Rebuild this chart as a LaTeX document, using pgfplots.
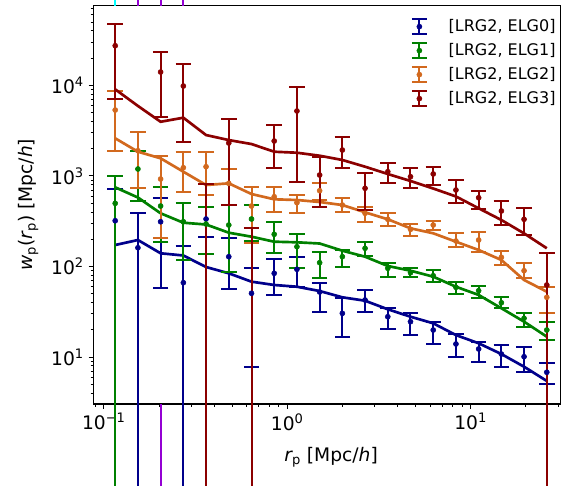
\documentclass[border=0pt]{standalone}
\usepackage{pgfplots}
\usepackage{pgfplotstable}
\pgfplotsset{compat=1.18}
\usepackage{fontspec}
\setmainfont{DejaVu Sans}
\definecolor{cnavy}{RGB}{0,0,139}
\definecolor{cgreen}{RGB}{0,128,0}
\definecolor{corange}{RGB}{210,105,30}
\definecolor{cdred}{RGB}{139,0,0}
\definecolor{cpurple}{RGB}{148,0,211}
\definecolor{ccyan}{RGB}{0,255,255}

% ELG0
\pgfplotstableread{
x y ep em
0.11533 320 391 319.7
0.15339 161 231.5 160.7
0.20396 312 263 254.5
0.27128 66.3 102.1 66.0
0.36083 334.4 122.6 124.4
0.4799 128.3 76.5 72.3
0.63846 50.6 44.9 42.77
0.84895 84.1 36.0 35.6
1.1292 93.1 33.2 34.2
1.5019 52.3 14.0 20.6
1.9975 30.4 14.2 13.6
2.6563 42.7 12.3 11.0
3.5335 27.9 6.7 7.5
4.6989 24.6 5.8 7.1
6.2521 19.9 4.7 5.95
8.3134 13.95 4.05 4.0
11.057 12.29 2.51 3.39
14.708 10.8 2.8 2.97
19.555 10.1 2.9 3.2
26.01 6.8 1.87 1.75
}\elgzero
% ELG1
\pgfplotstableread{
x y ep em
0.11533 498 499 497.7
0.15339 1192 691 660
0.20396 465 283 277.2
0.27128 312 194 193.1
0.36083 294.5 162.5 157.1
0.4799 287 190 199.4
0.63846 334.4 142.6 143.2
0.84895 226.7 85.3 86.8
1.1292 165.4 63 69.9
1.5019 110.2 35.5 36.1
1.9975 128.3 23.8 30.3
2.6563 158.8 26.2 28.2
3.5335 95.5 14.7 18.3
4.6989 85.4 11.6 9.4
6.2521 79.1 12.4 11.1
8.3134 58.9 9.1 9.2
11.057 54.1 6.8 9.5
14.708 39.8 6.6 5.2
19.555 26.8 4.1 5.1
26.01 19.9 4.7 4.5
}\elgone
% ELG2
\pgfplotstableread{
x y ep em
0.11533 5339 3379 3442
0.15339 1897 1178 1156
0.20396 924 734 719.2
0.27128 1232 618 573
0.36083 1263 587 647.5
0.4799 828 354 351
0.63846 465 289 283.3
0.84895 589 171 186.3
1.1292 506 109.5 113.5
1.5019 686.5 141.5 140.5
1.9975 477 89 80.5
2.6563 386.6 63.4 74.6
3.5335 332 54.6 50
4.6989 257.4 34.9 40.4
6.2521 287 33 34.1
8.3134 191.2 41.3 28.3
11.057 196.1 46.1 50.4
14.708 126.3 23.1 22.4
19.555 89.9 18.6 15.8
26.01 45.7 14.1 15.3
}\elgtwo
% ELG3
\pgfplotstableread{
x y ep em
0.11533 27360 20140 20299
0.20396 14025 9465 9523
0.27128 9824 7356 7475
0.4799 2307 1906 1830
0.84895 2428 1218 1215
1.1292 5205 4299 4342
1.5019 1023 606 569.4
1.9975 1931 777 718
2.6563 729.8 338.2 309.5
3.5335 1113 264 285
4.6989 980 233 250.2
6.2521 1050 213 256.5
8.3134 698.9 201.9 200.9
11.057 574.6 111.9 146.7
14.708 410 122 123
19.555 332 106.9 109.3
26.01 62.5 77.4 62.2
}\elgthree
% ELG3 points whose value is below zero (only the upper end is in view)
\pgfplotstableread{
x y ep em
0.36083 814 0 813.7
0.63846 264 0 263.7
}\elgthreeneg
% models
\pgfplotstableread{
x m0 m1 m2 m3
0.11533 172.7 748 2600 9030
0.15339 196.1 577.6 1850 5920
0.20396 139.9 386.6 1564 3960
0.27128 132.3 304.3 1113 4390
0.36083 98.7 290.8 793.5 2825
0.4799 84.1 236.1 828 2487
0.63846 68.0 213.3 631 2248
0.84895 62.5 187.8 551.6 1849
1.1292 59.8 185 542 1803
1.5019 53.6 179.4 515 1671
1.9975 45.7 149.4 477 1499
2.6563 41.9 128.3 396.5 1264
3.5335 33.7 101.3 332 1050
4.6989 27.9 89.9 264 879
6.2521 23.6 77.2 232.5 726
8.3134 17.5 59.8 187.8 593
11.057 14.2 48.5 152.1 439
14.708 10.8 34.6 118 326
19.555 7.83 24.6 71.0 232
26.01 5.45 16.8 52.7 159
}\models

\pgfplotsset{
  ebstyle/.style={#1, only marks, mark=*, mark size=1.9pt,
    mark options={solid, fill=#1, draw=#1},
    error bars/y dir=both, error bars/y explicit, error bars/error mark=-,
    error bars/error bar style={line width=1.5pt, #1, solid},
    error bars/error mark options={rotate=90, line width=1.5pt, mark size=5.8pt, #1, solid},
    legend image code/.code={
      \path[draw=none, fill=none] (-12pt,-1pt) rectangle (22pt,1pt);
      \draw[line width=1.5pt, #1] (0pt,-5.6pt) -- (0pt,5.6pt);
      \draw[line width=1.5pt, #1] (-5.7pt,-5.6pt) -- (5.7pt,-5.6pt);
      \draw[line width=1.5pt, #1] (-5.7pt,5.6pt) -- (5.7pt,5.6pt);
      \fill[#1] (0pt,0pt) circle (1.9pt);
    }},
}

\begin{document}
\begin{tikzpicture}
\useasboundingbox (0pt,0pt) rectangle (421.5pt,364.5pt);
\clip (0pt,0pt) rectangle (421.5pt,364.5pt);
\begin{axis}[
  at={(69.98pt,61.5pt)}, anchor=south west,
  scale only axis, width=350.4pt, height=298.7pt,
  xmode=log, ymode=log,
  xmin=0.0876, xmax=30.9, ymin=3.035, ymax=75620,
  clip=false,
  axis line style={line width=0.8pt},
  tick align=outside, tick pos=left,
  major tick length=3.5pt, minor tick length=2pt,
  every major tick/.append style={line width=0.8pt, black},
  every minor tick/.append style={line width=0.6pt, black},
  xtick={0.1,1,10},
  xticklabels={10\textsuperscript{−1},10\textsuperscript{0},10\textsuperscript{1}},
  minor xtick={0.09,0.2,0.3,0.4,0.5,0.6,0.7,0.8,0.9,2,3,4,5,6,7,8,9,20,30},
  ytick={10,100,1000,10000},
  yticklabels={10\textsuperscript{1},10\textsuperscript{2},10\textsuperscript{3},10\textsuperscript{4}},
  minor ytick={4,5,6,7,8,9,20,30,40,50,60,70,80,90,200,300,400,500,600,700,800,900,2000,3000,4000,5000,6000,7000,8000,9000,20000,30000,40000,50000,60000,70000},
  ticklabel style={font=\fontsize{14}{16}\selectfont},
  xlabel={{\itshape r}\textsubscript{p} [Mpc/{\itshape h}]},
  ylabel={{\itshape w}\textsubscript{p}({\itshape r}\textsubscript{p}) [Mpc/{\itshape h}]},
  label style={font=\fontsize{14}{16}\selectfont},
  xlabel style={at={(axis description cs:0.509,-0.098)}, anchor=north},
  ylabel style={at={(axis description cs:-0.139,0.5)}, anchor=center},
  legend cell align=left,
  legend style={draw=none, fill=none, at={(0.99,0.97)}, anchor=north east,
    font=\fontsize{12}{14}\selectfont, inner sep=0pt, column sep=0pt, row sep=5pt,
    nodes={inner sep=0pt, text height=10pt, text depth=3pt}},
]
% series whose error bars run off the top / bottom of the panel
\addplot[ccyan, line width=1.5pt, forget plot] coordinates {(0.11533,75620) (0.11533,90000)};
\addplot[cpurple, line width=1.5pt, forget plot] coordinates {(0.15339,75620) (0.15339,90000)};
\addplot[cpurple, line width=1.5pt, forget plot] coordinates {(0.20396,75620) (0.20396,90000)};
\addplot[cpurple, line width=1.5pt, forget plot] coordinates {(0.27128,75620) (0.27128,90000)};
\addplot[cpurple, line width=1.5pt, forget plot] coordinates {(0.20396,0.3) (0.20396,3.035)};

\addplot[ebstyle=cnavy] table[x=x,y=y,y error plus=ep,y error minus=em] {\elgzero};
\addlegendentry{[LRG2, ELG0]}
\addplot[cnavy, line width=2pt, no marks, forget plot] table[x=x,y=m0] {\models};

\addplot[ebstyle=cgreen] table[x=x,y=y,y error plus=ep,y error minus=em] {\elgone};
\addlegendentry{[LRG2, ELG1]}
\addplot[cgreen, line width=2pt, no marks, forget plot] table[x=x,y=m1] {\models};

\addplot[ebstyle=corange] table[x=x,y=y,y error plus=ep,y error minus=em] {\elgtwo};
\addlegendentry{[LRG2, ELG2]}
\addplot[corange, line width=2pt, no marks, forget plot] table[x=x,y=m2] {\models};

\addplot[ebstyle=cdred] table[x=x,y=y,y error plus=ep,y error minus=em] {\elgthree};
\addlegendentry{[LRG2, ELG3]}
\addplot[cdred, draw=none, no marks, forget plot,
    error bars/y dir=both, error bars/y explicit, error bars/error mark=-,
    error bars/error bar style={line width=1.5pt, cdred, solid},
    error bars/error mark options={rotate=90, line width=1.5pt, mark size=5.8pt, cdred, solid}]
  table[x=x,y=y,y error plus=ep,y error minus=em] {\elgthreeneg};
\addplot[cdred, line width=2pt, no marks, forget plot] table[x=x,y=m3] {\models};
\end{axis}
\end{tikzpicture}
\end{document}
